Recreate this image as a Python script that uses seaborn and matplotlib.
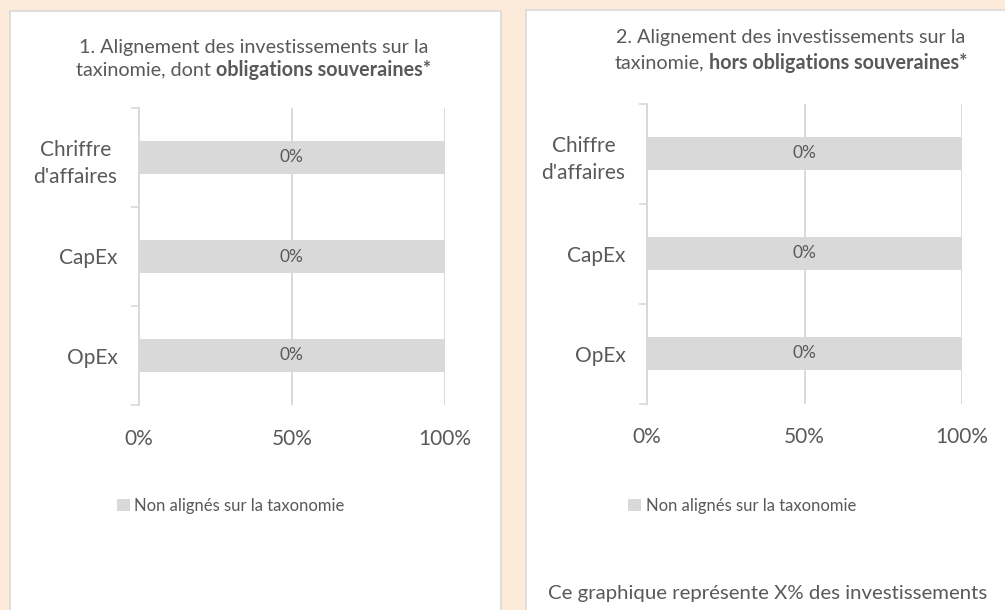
import matplotlib
matplotlib.use("Agg")
import matplotlib.pyplot as plt
import matplotlib.patches as mpatches
import pandas as pd
import seaborn as sns

# data
categories = ["Chiffre\nd'affaires", "CapEx", "OpEx"]
categories_left = ["Chriffre\nd'affaires", "CapEx", "OpEx"]
non_aligned = [100, 100, 100]
aligned_labels = ["0%", "0%", "0%"]
x_ticks = [0, 50, 100]
x_ticklabels = ["0%", "50%", "100%"]
series_name = "Non alignés sur la taxonomie"
title1 = [("1. Alignement des investissements sur la", "normal")], \
         [("taxinomie, dont", "normal"), ("obligations souveraines*", "bold")]
title2 = [("2. Alignement des investissements sur la", "normal")], \
         [("taxinomie,", "normal"), ("hors obligations souveraines*", "bold")]
note = "Ce graphique représente X% des investissements"

W, H = 1005, 610
BG = "#FDEBDA"
GREY = "#D9D9D9"
TXT = "#595959"

sns.set_theme(style="white")
plt.rcParams["font.family"] = ["Lato", "DejaVu Sans"]

fig = plt.figure(figsize=(W / 100, H / 100), dpi=100, facecolor=BG)

# white panels (behind the axes)
for x0, y0, w in [(10, 11, 491), (526, 10, 520)]:
    fig.add_artist(mpatches.Rectangle((x0 / W, 1 - 640 / H), w / W, (640 - y0) / H,
                                      transform=fig.transFigure, zorder=-10,
                                      facecolor="white", edgecolor=GREY, linewidth=1.2))


def px_ax(x0, y0, x1, y1):
    return fig.add_axes([x0 / W, 1 - y1 / H, (x1 - x0) / W, (y1 - y0) / H])


renderer = fig.canvas.get_renderer()


def title_lines(lines, xc, ys, size=14.2):
    gap_a = fig.text(0, 0, "x x", fontsize=size)
    gap_b = fig.text(0, 0, "xx", fontsize=size)
    gap = gap_a.get_window_extent(renderer).width - gap_b.get_window_extent(renderer).width
    gap_a.remove()
    gap_b.remove()
    for parts, y in zip(lines, ys):
        texts = [fig.text(0, 1 - y / H, s, fontsize=size, fontweight=w, color=TXT,
                          ha="left", va="center") for s, w in parts]
        widths = [t.get_window_extent(renderer).width for t in texts]
        total = sum(widths) + gap * (len(texts) - 1)
        x = xc - total / 2
        for t, w in zip(texts, widths):
            t.set_x(x / W)
            x += w + gap


def panel(ax, cats, legend_xy):
    df = pd.DataFrame({"category": cats, "value": non_aligned,
                       "series": [series_name] * len(cats)})
    sns.barplot(data=df, x="value", y="category", hue="series", palette=[GREY],
                width=0.33, orient="h", linewidth=0, ax=ax)
    ax.bar_label(ax.containers[0], labels=aligned_labels, label_type="center",
                 fontsize=12.5, color=TXT)
    ax.set_xlim(0, 100)
    ax.set_ylim(2.5, -0.5)
    ax.set_xticks(x_ticks)
    ax.set_xticklabels(x_ticklabels)
    ax.set_yticks(range(len(cats)))
    ax.set_yticklabels(cats, linespacing=1.45, multialignment="center")
    ax.set_yticks([-0.5, 0.5, 1.5, 2.5], minor=True)
    ax.tick_params(axis="y", which="major", length=0, pad=15.5, labelsize=15, labelcolor=TXT)
    ax.tick_params(axis="y", which="minor", length=6, color=GREY, width=1.2, left=True)
    ax.tick_params(axis="x", length=0, pad=17, labelsize=15, labelcolor=TXT)
    ax.grid(axis="x", color=GREY, linewidth=1.4)
    ax.set_axisbelow(True)
    for s in ["top", "right", "bottom"]:
        ax.spines[s].set_visible(False)
    ax.spines["left"].set_color(GREY)
    ax.spines["left"].set_linewidth(1.4)
    ax.set_xlabel("")
    ax.set_ylabel("")
    ax.set_facecolor("none")
    ax.legend(loc="center left", bbox_to_anchor=(legend_xy[0] / W, 1 - legend_xy[1] / H),
              bbox_transform=fig.transFigure, frameon=False, fontsize=12,
              handlelength=0.75, handleheight=0.75, handletextpad=0.3,
              borderpad=0, borderaxespad=0, labelcolor=TXT)


ax1 = px_ax(139, 108, 444.5, 405)
panel(ax1, categories_left, (117, 506))
ax2 = px_ax(647, 103.5, 962, 403.5)
panel(ax2, categories, (628, 506))

title_lines(title1, 254, (47, 70))
title_lines(title2, 791, (38, 63))

fig.text(768 / W, 1 - 593 / H, note, fontsize=14.7, color=TXT, ha="center", va="center")

fig.savefig("out.png", dpi=100, facecolor=BG)
